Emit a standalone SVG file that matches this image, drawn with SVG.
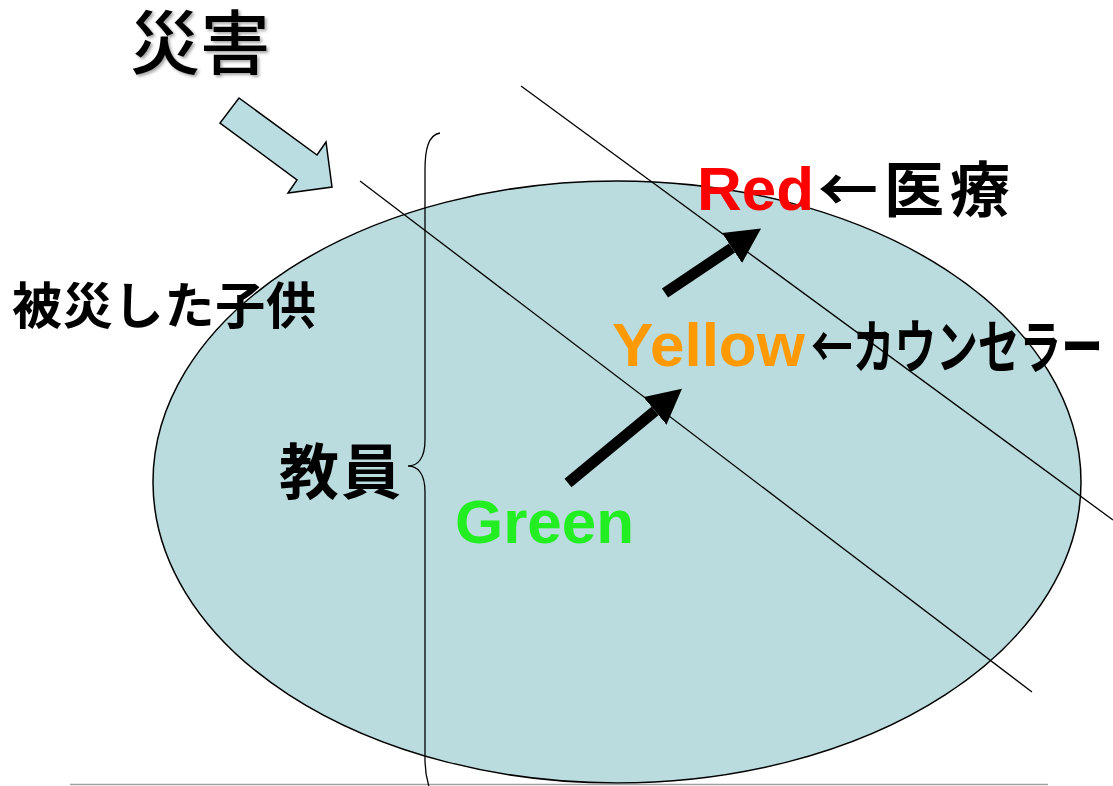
<svg xmlns="http://www.w3.org/2000/svg" width="1113" height="786" viewBox="0 0 1113 786">
<style>
.jp{font-family:"Noto Sans CJK JP","Noto Sans CJK SC",sans-serif;fill:#000}
.lat{font-family:"Liberation Sans",Arial,sans-serif;font-weight:bold}
.thin{stroke:#000;stroke-width:1.3;fill:none}
.fat{stroke:#000;stroke-width:11;fill:none}
</style>
<defs>
<marker id="ah" markerUnits="userSpaceOnUse" markerWidth="36" markerHeight="36" refX="0" refY="18" orient="auto" viewBox="0 0 36 36">
<path d="M0,0 L35,18 L0,36 Z" fill="#000"/>
</marker>
<filter id="sh" x="-10%" y="-10%" width="130%" height="130%">
<feDropShadow dx="2" dy="2" stdDeviation="1.5" flood-color="#000" flood-opacity="0.35"/>
</filter>
</defs>
<rect width="1113" height="786" fill="#fff"/>
<g id="field">
<ellipse cx="617" cy="482" rx="464" ry="301" fill="#badcde" stroke="#000" stroke-width="1.5"/>
<line x1="70" y1="784.5" x2="1048" y2="784.5" stroke="#a0a0a0" stroke-width="1.5"/>
</g>
<g id="connectors">
<line class="thin" x1="360" y1="181" x2="1032" y2="692"/>
<line class="thin" x1="521" y1="86" x2="1113" y2="520"/>
<line class="fat" x1="568" y1="483" x2="655" y2="411" marker-end="url(#ah)"/>
<line class="fat" x1="665" y1="293" x2="732" y2="248" marker-end="url(#ah)"/>
<polygon points="239,98 317,155 326,142 332,187 288,193 297,180 220,123" fill="#b9dde0" stroke="#000" stroke-width="1.5" stroke-linejoin="miter"/>
</g>
<g id="brace">
<path class="thin" d="M440,133 C428,135 425,150 425,170 L425,440 C425,458 418,466 408,466 C418,466 425,474 425,492 L425,760 C425,775 428,784 430,790"/>
</g>
<g id="disaster">
<text class="jp" x="130" y="69" font-size="70" font-weight="500" filter="url(#sh)">災害</text>
</g>
<g id="children">
<text class="jp" x="12" y="324" font-size="50" font-weight="bold" textLength="304">被災した子供</text>
</g>
<g id="teachers">
<text class="jp" x="279" y="494" font-size="60" font-weight="bold" textLength="122">教員</text>
</g>
<g id="red">
<text class="lat" x="697" y="210" font-size="62" fill="#ff0000">Red</text>
<text class="jp" x="818" y="212" font-size="60" font-weight="bold" textLength="192">←医療</text>
</g>
<g id="yellow">
<text class="lat" x="612" y="366" font-size="62" fill="#ff9900">Yellow</text>
<text class="jp" x="811" y="368" font-size="58" font-weight="bold" textLength="292" lengthAdjust="spacingAndGlyphs">←カウンセラー</text>
</g>
<g id="green">
<text class="lat" x="455" y="543" font-size="62" fill="#22ee22">Green</text>
</g>
</svg>
